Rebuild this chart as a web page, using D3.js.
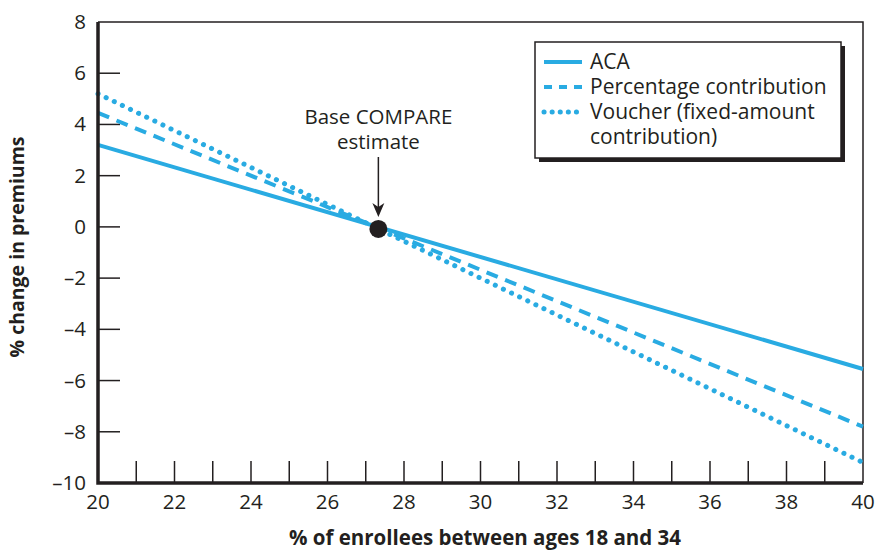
<!DOCTYPE html>
<html><head><meta charset="utf-8">
<script src="https://cdn.jsdelivr.net/npm/d3@7"></script>
<style>body{margin:0;background:#fff}svg{display:block}text{font-family:"Open Sans","Noto Sans",sans-serif;fill:#231f20}</style>
</head><body><svg id="c" width="876" height="552"></svg>
<script>
const xVals = [20, 40];
const acaVals = [3.2, -5.55];
const pctVals = [4.45, -7.8];
const voucherVals = [5.2, -9.2];
const basePoint = [27.33, -0.08];
const xTicks = [20,22,24,26,28,30,32,34,36,38,40];
const xMinor = d3.range(21,40,1);
const yTicks = [-10,-8,-6,-4,-2,0,2,4,6,8];
const seriesNames = ["ACA","Percentage contribution","Voucher (fixed-amount","contribution)"];
const xTitle = "% of enrollees between ages 18 and 34";
const yTitle = "% change in premiums";
const annot = ["Base COMPARE", "estimate"];

const blue = "#29abe2", ink = "#231f20";
const svg = d3.select("#c");
const x = d3.scaleLinear().domain([20,40]).range([98,863]);
const y = d3.scaleLinear().domain([-10,8]).range([483,22]);

svg.append("path").attr("d",`M${x(20)},${y(8)}H${x(40)}V${y(-10)}`).attr("fill","none").attr("stroke",ink).attr("stroke-width",1.5);

svg.selectAll(".yt").data(yTicks.filter(d=>d>-10 && d<8)).enter().append("line")
 .attr("x1",x(20)).attr("x2",x(20)+22).attr("y1",d=>y(d)).attr("y2",d=>y(d)).attr("stroke",ink).attr("stroke-width",1.5);
svg.selectAll(".ytl").data(yTicks).enter().append("text")
 .attr("x",x(20)-12).attr("y",d=>y(d)+7).attr("text-anchor","end").attr("font-size",20.5).text(d=>d<0?"\u2013"+Math.abs(d):d);
svg.selectAll(".xt").data(xMinor).enter().append("line")
 .attr("x1",d=>x(d)).attr("x2",d=>x(d)).attr("y1",y(-10)).attr("y2",y(-10)-22).attr("stroke",ink).attr("stroke-width",1.5);
svg.selectAll(".xtl").data(xTicks).enter().append("text")
 .attr("x",d=>x(d)).attr("y",y(-10)+26).attr("text-anchor","middle").attr("font-size",20.5).text(d=>d);

const line = d3.line().x(d=>x(d[0])).y(d=>y(d[1]));
const mk = vals => xVals.map((v,i)=>[v,vals[i]]);
svg.append("path").attr("d",line(mk(voucherVals))).attr("fill","none").attr("stroke",blue).attr("stroke-width",5).attr("stroke-linecap","round").attr("stroke-dasharray","0.1 8.9");
svg.append("path").attr("d",line(mk(pctVals))).attr("fill","none").attr("stroke",blue).attr("stroke-width",4).attr("stroke-dasharray","12 8");
svg.append("path").attr("d",line(mk(acaVals))).attr("fill","none").attr("stroke",blue).attr("stroke-width",4);

svg.append("path").attr("d",`M${x(20)},${y(8)}V${y(-10)}H${x(40)}`).attr("fill","none").attr("stroke",ink).attr("stroke-width",3.5);

svg.append("circle").attr("cx",x(basePoint[0])).attr("cy",y(basePoint[1])).attr("r",9).attr("fill",ink);
const at = svg.append("text").attr("text-anchor","middle").attr("font-size",20.5);
at.selectAll("tspan").data(annot).enter().append("tspan").attr("x",x(basePoint[0])).attr("y",(d,i)=>124+i*25).text(d=>d);
svg.append("line").attr("x1",x(basePoint[0])).attr("x2",x(basePoint[0])).attr("y1",157).attr("y2",208).attr("stroke",ink).attr("stroke-width",1.5);
const ax=x(basePoint[0]);
svg.append("path").attr("d",`M${ax-6},203L${ax},217L${ax+6},203L${ax},207Z`).attr("fill",ink);

const lg = svg.append("g");
lg.append("rect").attr("x",539).attr("y",46).attr("width",306).attr("height",116).attr("fill",ink);
lg.append("rect").attr("x",535).attr("y",42).attr("width",306).attr("height",116).attr("fill","#fff").attr("stroke",ink).attr("stroke-width",1.5);
const ly=[62,87,112];
lg.append("line").attr("x1",544).attr("x2",582).attr("y1",ly[0]).attr("y2",ly[0]).attr("stroke",blue).attr("stroke-width",4);
lg.append("line").attr("x1",544).attr("x2",584).attr("y1",ly[1]).attr("y2",ly[1]).attr("stroke",blue).attr("stroke-width",4).attr("stroke-dasharray","8 7");
lg.append("line").attr("x1",544).attr("x2",584).attr("y1",ly[2]).attr("y2",ly[2]).attr("stroke",blue).attr("stroke-width",5).attr("stroke-linecap","round").attr("stroke-dasharray","0.1 8");
const lt = lg.append("text").attr("font-size",21);
lt.selectAll("tspan").data(seriesNames).enter().append("tspan").attr("x",590).attr("y",(d,i)=>62+i*25+7).text(d=>d);

svg.append("text").attr("x",485).attr("y",545).attr("text-anchor","middle").attr("font-size",20.5).attr("font-weight","bold").text(xTitle);
svg.append("text").attr("transform","translate(24,247) rotate(-90)").attr("text-anchor","middle").attr("font-size",19.5).attr("font-weight","bold").text(yTitle);
</script></body></html>
